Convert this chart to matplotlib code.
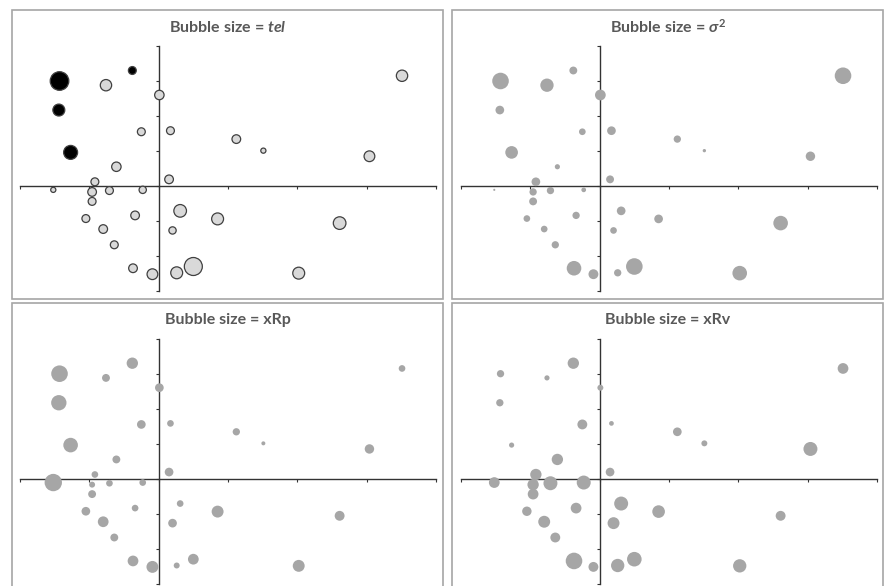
import numpy as np
import matplotlib
matplotlib.use("Agg")
import matplotlib.pyplot as plt
from matplotlib.patches import Rectangle

plt.rcParams['font.family'] = ['Lato', 'DejaVu Sans']
plt.rcParams['mathtext.fontset'] = 'custom'
plt.rcParams['mathtext.rm'] = 'Lato:bold'
plt.rcParams['mathtext.it'] = 'Lato:italic:bold'
plt.rcParams['mathtext.fallback'] = 'stixsans'

# Point coordinates (shared by all four panels)
x = np.array([-1.43, -0.38, -0.76, 3.51, 0.01, -1.44, -0.25, 0.17, 1.12, 1.51,
              -1.27, 3.04, -0.61, -0.92, 0.15, -1.52, -0.96, -0.71, -0.23, -0.96,
              0.31, -1.05, -0.34, 0.85, 2.61, -0.80, 0.20, -0.64, -0.37, 0.50,
              -0.09, 0.26, 2.02])
y = np.array([3.00, 3.30, 2.88, 3.15, 2.60, 2.17, 1.55, 1.58, 1.34, 1.01,
              0.96, 0.85, 0.55, 0.12, 0.19, -0.11, -0.17, -0.13, -0.11, -0.44,
              -0.71, -0.93, -0.84, -0.94, -1.06, -1.23, -1.27, -1.68, -2.35, -2.30,
              -2.52, -2.48, -2.49])

# Bubble sizes per variable
tel = np.array([7.8, 1.4, 2.9, 2.9, 2.0, 3.2, 1.4, 1.4, 1.7, 0.6,
                4.4, 2.6, 2.0, 1.4, 1.7, 0.6, 1.7, 1.4, 1.2, 1.4,
                3.6, 1.4, 1.7, 3.2, 3.6, 1.7, 1.2, 1.4, 1.7, 7.3,
                2.6, 3.2, 3.2])
sigma2 = np.array([6.2, 1.4, 4.0, 6.2, 2.6, 1.7, 1.0, 1.7, 1.2, 0.25,
                   3.6, 2.0, 0.6, 1.7, 1.4, 0.1, 1.2, 1.2, 0.5, 1.4,
                   1.7, 1.0, 1.2, 1.7, 4.8, 1.0, 1.0, 1.2, 4.8, 6.2,
                   2.2, 1.2, 4.8])
xRp = np.array([6.2, 2.9, 1.4, 1.0, 1.7, 5.3, 1.7, 1.0, 1.2, 0.36,
                4.8, 2.0, 1.4, 1.0, 1.7, 6.8, 0.8, 1.0, 1.0, 1.4,
                1.0, 1.7, 1.0, 3.2, 2.2, 2.6, 1.7, 1.4, 2.6, 2.6,
                3.2, 0.8, 3.2])
xRv = np.array([1.2, 2.9, 0.6, 2.6, 0.8, 1.2, 2.2, 0.5, 1.7, 0.8,
                0.6, 4.4, 2.9, 2.9, 1.7, 2.6, 2.9, 4.4, 4.4, 2.6,
                4.4, 2.0, 2.6, 3.6, 2.2, 3.2, 3.2, 2.2, 6.2, 4.8,
                2.2, 4.0, 4.0])

# points flagged in the first panel
flagged = np.array([0, 1, 5, 10])

titles = [r"Bubble size = $tel$", r"Bubble size = $\sigma^2$",
          "Bubble size = xRp", "Bubble size = xRv"]
sizes = [tel, sigma2, xRp, xRv]

W, H = 884, 586
fig = plt.figure(figsize=(W / 100, H / 100), dpi=100)

frames = [(12, 10, 443, 299), (452, 10, 883, 299),
          (12, 303, 443, 620), (452, 303, 883, 620)]
axes_px = [(20, 46, 436, 291), (461, 46, 877, 291),
           (20, 338.7, 436, 583.7), (461, 338.7, 877, 583.7)]
title_y = [27, 27, 320, 320]

for i in range(4):
    l, t, r, b = frames[i]
    fig.patches.append(Rectangle((l / W, 1 - b / H), (r - l) / W, (b - t) / H,
                                 transform=fig.transFigure, fill=False,
                                 edgecolor='#a6a6a6', linewidth=1.2))
    fig.text((l + r) / 2 / W, 1 - title_y[i] / H, titles[i], ha='center',
             va='center', fontsize=11.5, fontweight='bold', color='#595959')

    al, at, ar, ab = axes_px[i]
    ax = fig.add_axes([al / W, 1 - ab / H, (ar - al) / W, (ab - at) / H])
    ax.set_xlim(-2, 4)
    ax.set_ylim(-3, 4)
    ax.patch.set_visible(False)
    for side in ['top', 'right']:
        ax.spines[side].set_visible(False)
    for side in ['left', 'bottom']:
        ax.spines[side].set_position('zero')
        ax.spines[side].set_color('#333333')
        ax.spines[side].set_linewidth(1.0)
    ax.set_xticks(np.arange(-2, 5, 1))
    ax.set_yticks(np.arange(-3, 5, 1))
    ax.tick_params(direction='out', length=2.5, width=0.8, color='#333333',
                   labelbottom=False, labelleft=False)

    s = sizes[i] * 23.0
    if i == 0:
        colors = np.array(['#d9d9d9'] * len(x), dtype=object)
        colors[flagged] = '#000000'
        ax.scatter(x, y, s=s, c=list(colors), edgecolors='#404040',
                   linewidths=0.9, zorder=3, clip_on=False)
    else:
        ax.scatter(x, y, s=s, c='#a6a6a6', edgecolors='none', zorder=3,
                   clip_on=False)

fig.savefig("out.png", dpi=100)
